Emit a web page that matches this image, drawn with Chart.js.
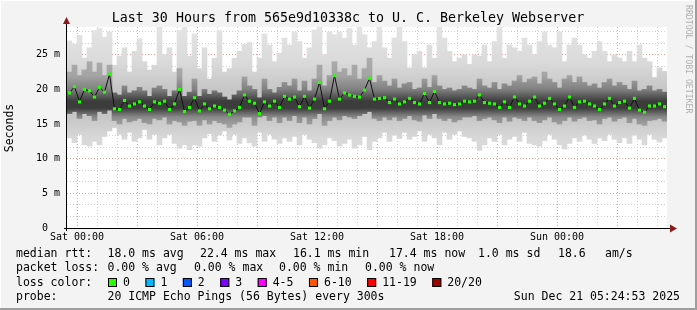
<!DOCTYPE html>
<html>
<head>
<meta charset="utf-8">
<script src="https://cdn.jsdelivr.net/npm/chart.js@4"></script>
<style>
  html, body { margin: 0; padding: 0; background: #f3f3f3; }
  canvas { display: block; }
</style>
</head>
<body>
<canvas id="myChart" width="697" height="310"></canvas>
<script>
// median rtt (ms), one value every 15 minutes, starting Fri 23:30
const median = [
  19.5, 20.4, 18.2, 20.0, 19.8, 18.9, 20.3, 19.6, 22.2, 17.2, 17.1, 18.4, 17.6, 17.9, 18.2, 17.6, 17.1, 18.2, 18.0, 18.3,
  17.1, 17.9, 20.0, 16.8, 17.4, 18.8, 16.9, 17.9, 17.2, 17.6, 17.4, 17.0, 16.4, 16.9, 17.4, 19.2, 18.3, 18.0, 16.5, 18.2,
  17.6, 18.3, 17.4, 19.0, 18.6, 18.9, 17.5, 19.0, 17.3, 18.6, 21.0, 17.2, 18.3, 22.0, 18.6, 19.5, 19.2, 19.0, 18.9, 19.9,
  21.6, 18.6, 18.7, 18.8, 18.1, 18.6, 17.9, 18.2, 18.7, 18.1, 17.9, 19.4, 18.1, 19.7, 18.1, 17.9, 18.0, 17.8, 17.9, 18.3,
  18.2, 18.3, 19.2, 18.1, 18.0, 17.9, 17.4, 18.2, 17.4, 18.9, 17.9, 17.6, 18.3, 18.9, 17.6, 18.0, 18.7, 17.9, 17.1, 17.6,
  18.9, 17.4, 18.2, 18.3, 17.9, 17.6, 17.1, 17.9, 18.7, 17.6, 18.1, 18.3, 17.3, 18.7, 17.0, 16.7, 17.6, 17.6, 17.9, 17.5
];
// outer smoke (slowest / fastest pings)
const smokeHi = [
  27.0, 26.5, 27.8, 24.5, 26.0, 28.5, 28.8, 27.5, 28.3, 23.5, 24.8, 26.0, 22.5, 25.5, 27.3, 24.0, 22.8, 23.5, 29.0, 25.0,
  26.0, 22.5, 28.5, 29.0, 24.8, 28.0, 23.0, 26.0, 21.5, 24.5, 28.5, 22.5, 23.0, 24.5, 25.5, 26.5, 26.8, 22.5, 24.5, 28.0,
  26.4, 24.0, 25.2, 27.4, 26.4, 28.3, 26.9, 24.5, 26.0, 28.6, 29.0, 25.0, 28.3, 27.9, 28.3, 27.4, 28.8, 26.4, 29.0, 27.9,
  26.0, 26.9, 29.0, 26.0, 24.5, 27.4, 29.0, 26.9, 23.1, 25.0, 25.5, 23.1, 26.4, 24.5, 29.0, 27.4, 25.5, 24.0, 24.5, 25.0,
  23.6, 25.0, 24.8, 26.4, 24.0, 26.9, 29.0, 24.5, 26.4, 26.0, 25.5, 27.4, 26.4, 25.0, 26.9, 28.3, 26.4, 26.0, 28.3, 24.0,
  26.4, 27.4, 26.4, 25.0, 24.5, 25.5, 26.9, 25.5, 24.0, 25.0, 24.5, 24.0, 25.5, 24.0, 26.4, 24.5, 24.0, 21.7, 23.1, 22.6
];
const smokeLo = [
  13.0, 12.3, 13.5, 12.0, 11.8, 12.5, 12.0, 13.2, 14.0, 14.5, 13.5, 12.8, 13.8, 12.5, 13.0, 14.2, 12.8, 13.5, 12.0, 13.0,
  13.5, 12.2, 11.5, 12.0, 11.3, 12.0, 11.8, 13.0, 13.6, 12.5, 13.4, 14.0, 12.7, 13.5, 12.2, 13.0, 12.3, 11.8, 13.8, 12.5,
  13.5, 12.8, 12.2, 13.0, 12.5, 13.2, 12.0, 13.5, 12.8, 12.3, 11.5, 12.0, 13.0, 12.6, 11.8, 12.2, 12.8, 11.5, 12.0, 13.2,
  11.3, 12.5, 13.0, 13.8, 12.5, 13.4, 12.9, 13.8, 12.8, 13.2, 14.0, 12.5, 13.5, 13.0, 12.0, 13.8, 12.8, 13.5, 14.0, 13.2,
  13.0, 12.5, 11.2, 12.0, 13.0, 12.5, 13.5, 12.0, 12.8, 13.2, 12.5, 13.8, 12.2, 12.0, 11.8, 12.6, 13.5, 12.8, 12.0, 11.4,
  12.2, 13.0, 12.5, 13.4, 12.8, 12.2, 13.0, 12.6, 13.5, 12.8, 12.3, 13.0, 12.2, 13.4, 12.8, 12.0, 13.5, 12.8, 12.4, 13.0
];
// inner (denser) smoke
const coreHi = [
  22.5, 23.5, 22.0, 22.8, 24.0, 22.5, 23.8, 22.0, 23.5, 19.5, 19.2, 20.5, 19.5, 19.8, 20.3, 19.8, 19.0, 20.2, 20.5, 20.0,
  19.0, 19.8, 23.0, 19.0, 19.6, 21.5, 19.0, 20.0, 19.3, 19.8, 19.5, 18.9, 18.5, 19.2, 19.8, 21.8, 20.5, 20.0, 18.8, 21.5,
  20.0, 19.5, 20.3, 21.0, 20.5, 21.5, 19.8, 21.2, 19.8, 21.5, 23.5, 20.5, 22.0, 24.0, 22.5, 23.0, 22.0, 23.5, 21.5, 23.0,
  24.5, 21.0, 22.0, 21.2, 20.5, 21.5, 20.2, 20.8, 21.0, 20.0, 20.2, 21.5, 20.3, 22.0, 20.5, 20.0, 20.2, 19.8, 20.0, 20.5,
  20.2, 20.0, 21.5, 20.5, 20.2, 21.0, 20.0, 20.8, 20.5, 21.2, 22.0, 21.0, 21.5, 21.8, 20.8, 22.5, 21.5, 21.0, 20.2, 21.5,
  22.0, 21.0, 21.8, 21.0, 20.5, 20.8, 20.2, 21.0, 21.5, 20.5, 21.0, 20.6, 20.0, 21.2, 19.8, 20.0, 20.5, 19.8, 20.0, 19.6
];
const coreLo = [
  16.5, 16.8, 15.8, 16.5, 16.2, 15.5, 16.8, 16.5, 17.0, 15.5, 15.0, 15.8, 15.3, 15.5, 15.8, 15.2, 15.0, 15.8, 15.6, 16.0,
  15.0, 15.5, 15.3, 14.8, 15.4, 15.5, 14.8, 15.6, 15.0, 15.5, 15.2, 15.0, 14.5, 15.0, 15.3, 16.0, 16.0, 14.8, 16.0, 16.2,
  15.5, 16.0, 15.2, 16.0, 15.5, 16.2, 15.2, 16.0, 15.0, 15.8, 16.5, 14.8, 15.5, 16.0, 15.6, 16.2, 16.0, 15.8, 16.2, 16.5,
  16.8, 15.8, 15.5, 16.0, 15.6, 16.0, 15.5, 15.8, 16.2, 15.6, 15.4, 16.3, 15.8, 16.5, 15.8, 15.5, 15.8, 15.3, 15.6, 16.0,
  16.0, 16.2, 15.5, 15.8, 16.0, 15.6, 15.2, 16.0, 15.4, 16.0, 15.8, 15.5, 16.0, 15.5, 15.2, 15.6, 16.0, 15.3, 15.0, 15.5,
  16.0, 15.4, 15.8, 16.0, 15.5, 15.6, 15.0, 15.8, 16.0, 15.4, 15.8, 16.0, 15.2, 15.8, 15.0, 14.8, 15.5, 15.6, 15.8, 15.4
];

// x axis in hours from Sat 00:00
const startHour = -0.5;
const stepHours = 0.25;
const xTickHours = [0, 6, 12, 18, 24];
const xTickLabels = ['Sat 00:00', 'Sat 06:00', 'Sat 12:00', 'Sat 18:00', 'Sun 00:00'];

const lossLabels = ['0', '1', '2', '3', '4-5', '6-10', '11-19', '20/20'];
const lossColors = ['#26ff00', '#00b8ff', '#0059ff', '#7e00ff', '#ff00ff', '#ff5500', '#ff0000', '#a00000'];

const hours = median.map((_, i) => startHour + stepHours * (i + 0.5));
const toPoints = vals => vals.map((v, i) => ({ x: hours[i], y: v }));
const toRanges = (lo, hi) => lo.map((v, i) => ({ x: hours[i], y: [v, hi[i]] }));

const MONO = '"DejaVu Sans Mono", monospace';

// vertical shading of the smoke, darker towards the usual rtt
function shade(stops) {
  return c => {
    const chart = c.chart, y = chart.scales.y;
    if (!chart.chartArea || !y) return stops[0][1];
    const top = y.getPixelForValue(29), bottom = y.getPixelForValue(0);
    const g = chart.ctx.createLinearGradient(0, top, 0, bottom);
    stops.forEach(([v, col]) => g.addColorStop((y.getPixelForValue(v) - top) / (bottom - top), col));
    return g;
  };
}

const decor = {
  id: 'decor',
  beforeDraw(chart) {
    const ctx = chart.ctx, a = chart.chartArea;
    ctx.save();
    ctx.fillStyle = '#f3f3f3';
    ctx.fillRect(0, 0, chart.width, chart.height);
    ctx.fillStyle = '#ffffff';
    ctx.fillRect(a.left, a.top, a.right - a.left, a.bottom - a.top);
    ctx.restore();
  },
  afterDraw(chart) {
    const ctx = chart.ctx, a = chart.chartArea;
    ctx.save();
    // axes
    ctx.fillStyle = '#000';
    ctx.fillRect(a.left - 1, 22, 1, a.bottom - 22 + 3);
    ctx.fillRect(a.left - 3, a.bottom, a.right - a.left + 7, 1);
    ctx.fillStyle = '#8b1a1a';
    ctx.beginPath();
    ctx.moveTo(a.left - 4, 24); ctx.lineTo(a.left + 3, 24); ctx.lineTo(a.left - 0.5, 17); ctx.closePath(); ctx.fill();
    ctx.beginPath();
    ctx.moveTo(a.right + 3, a.bottom - 3.5); ctx.lineTo(a.right + 3, a.bottom + 4.5); ctx.lineTo(a.right + 10, a.bottom + 0.5); ctx.closePath(); ctx.fill();

    // title
    ctx.fillStyle = '#000';
    ctx.textBaseline = 'middle';
    ctx.textAlign = 'center';
    ctx.font = '13.3px ' + MONO;
    ctx.fillText('Last 30 Hours from 565e9d10338c to U. C. Berkeley Webserver', 348, 19);

    // y title
    ctx.save();
    ctx.translate(10, 128);
    ctx.rotate(-Math.PI / 2);
    ctx.font = '11.5px ' + MONO;
    ctx.fillText('Seconds', 0, 0);
    ctx.restore();

    // watermark
    ctx.save();
    ctx.translate(688, 5);
    ctx.rotate(Math.PI / 2);
    ctx.textAlign = 'left';
    ctx.fillStyle = '#b0b0b0';
    ctx.font = '8.2px ' + MONO;
    ctx.fillText('RRDTOOL / TOBI OETIKER', 0, 0);
    ctx.restore();

    // legend
    ctx.textAlign = 'left';
    ctx.font = '11.5px ' + MONO;
    const put = (s, x, y) => ctx.fillText(s, x, y);
    put('median rtt:', 16, 254);
    put('18.0 ms avg', 107.5, 254);
    put('22.4 ms max', 200, 254);
    put('16.1 ms min', 293, 254);
    put('17.4 ms now', 389, 254);
    put('1.0 ms sd', 478, 254);
    put('18.6', 558, 254);
    put('am/s', 605, 254);

    put('packet loss:', 16, 268);
    put('0.00 % avg', 107.5, 268);
    put('0.00 % max', 194, 268);
    put('0.00 % min', 279, 268);
    put('0.00 % now', 365, 268);

    put('loss color:', 16, 283);
    let x = 108;
    lossLabels.forEach((lab, i) => {
      ctx.fillStyle = lossColors[i];
      ctx.fillRect(x, 278, 9, 9);
      ctx.strokeStyle = '#000';
      ctx.lineWidth = 1;
      ctx.strokeRect(x + 0.5, 278.5, 8, 8);
      x += 15;
      ctx.fillStyle = '#000';
      put(lab, x, 283);
      x += ctx.measureText(lab).width + 15.5;
    });

    put('probe:', 16, 297);
    put('20 ICMP Echo Pings (56 Bytes) every 300s', 107.5, 297);
    ctx.textAlign = 'right';
    put('Sun Dec 21 05:24:53 2025', 680, 297);

    // frame shading
    ctx.fillStyle = '#ffffff';
    ctx.fillRect(0, 0, chart.width, 1);
    ctx.fillRect(0, 0, 1, chart.height);
    ctx.fillStyle = '#9e9e9e';
    ctx.fillRect(chart.width - 2, 0, 2, chart.height);
    ctx.fillRect(0, chart.height - 2, chart.width, 2);
    ctx.restore();
  }
};

const isMult = (v, m) => Math.abs(v / m - Math.round(v / m)) < 1e-6;

new Chart(document.getElementById('myChart'), {
  type: 'bar',
  data: {
    datasets: [
      {
        type: 'line',
        data: toPoints(median),
        borderColor: '#111111',
        borderWidth: 1,
        pointStyle: 'rect',
        pointRadius: 2.2,
        pointBorderWidth: 0,
        pointBackgroundColor: '#26ff00',
        order: 0
      },
      {
        data: toRanges(coreLo, coreHi),
        backgroundColor: shade([[29, '#b8b8b8'], [22, '#a4a4a4'], [20, '#808080'], [18.3, '#3c3c3c'], [17.3, '#3c3c3c'], [16, '#8a8a8a'], [14, '#b0b0b0'], [0, '#b8b8b8']]),
        grouped: false,
        barPercentage: 1,
        categoryPercentage: 1,
        order: 1
      },
      {
        data: toRanges(smokeLo, smokeHi),
        backgroundColor: shade([[29, '#e4e4e4'], [24, '#dadada'], [20, '#c6c6c6'], [16, '#c6c6c6'], [13, '#d8d8d8'], [0, '#e2e2e2']]),
        grouped: false,
        barPercentage: 1,
        categoryPercentage: 1,
        order: 2
      }
    ]
  },
  options: {
    responsive: false,
    animation: false,
    events: [],
    layout: { padding: { top: 27, right: 30, left: 0, bottom: 0 } },
    plugins: { legend: { display: false }, tooltip: { enabled: false } },
    scales: {
      x: {
        type: 'linear',
        min: -0.5,
        max: 29.5,
        offset: false,
        z: 1,
        afterFit: s => { s.height = 82; },
        afterBuildTicks: s => {
          s.ticks = [];
          for (let h = 0; h <= 29; h++) s.ticks.push({ value: h });
        },
        border: { display: false, dash: [1, 2] },
        grid: {
          offset: false,
          drawTicks: false,
          color: c => isMult(c.tick.value, 3) ? '#e6a0a0' : '#cfcfcf'
        },
        ticks: {
          autoSkip: false,
          maxRotation: 0,
          padding: 3,
          color: '#000',
          font: { family: MONO, size: 10 },
          callback: v => {
            const i = xTickHours.indexOf(v);
            return i >= 0 ? xTickLabels[i] : '';
          }
        }
      },
      y: {
        min: 0,
        max: 29,
        z: 1,
        afterFit: s => { s.width = 67; },
        afterBuildTicks: s => {
          s.ticks = [];
          for (let i = 0; i <= 17; i++) s.ticks.push({ value: i * 5 / 3 });
        },
        border: { display: false, dash: [1, 2] },
        grid: {
          drawTicks: false,
          color: c => c.tick.value === 0 ? 'rgba(0,0,0,0)' : (isMult(c.tick.value, 5) ? '#e6a0a0' : '#cfcfcf')
        },
        ticks: {
          autoSkip: false,
          padding: 7,
          color: '#000',
          font: { family: MONO, size: 10 },
          callback: v => isMult(v, 5) ? (v === 0 ? '0  ' : Math.round(v) + ' m') : ''
        }
      }
    }
  },
  plugins: [decor]
});
</script>
</body>
</html>
